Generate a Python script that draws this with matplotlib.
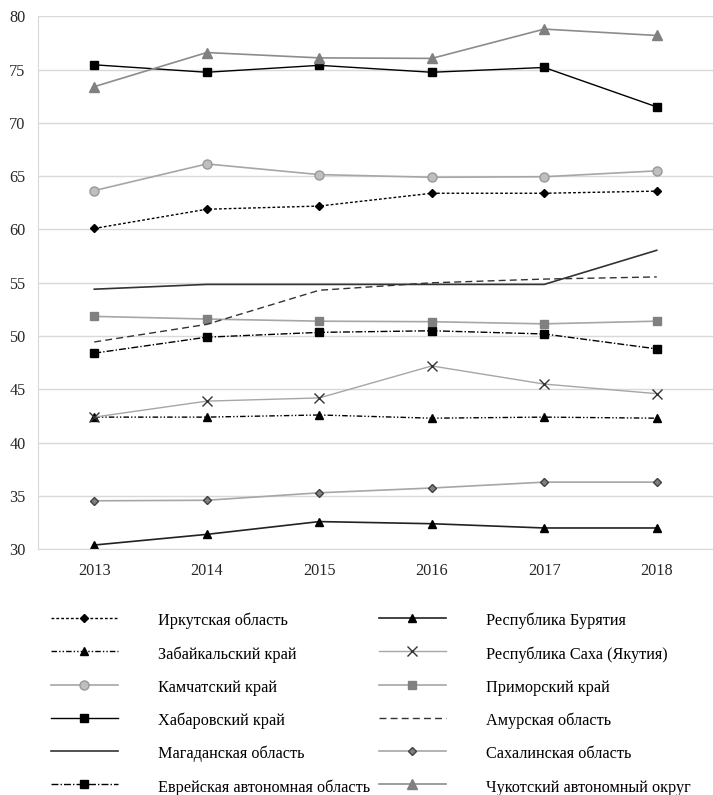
import matplotlib.pyplot as plt

plt.rcParams['font.family'] = ['Liberation Serif', 'DejaVu Serif']

years = ['2013', '2014', '2015', '2016', '2017', '2018']

irkutsk = [60.1, 61.9, 62.2, 63.4, 63.4, 63.6]
buryatia = [30.4, 31.4, 32.6, 32.4, 32.0, 32.0]
zabaikal = [42.4, 42.4, 42.6, 42.3, 42.4, 42.3]
sakha = [42.4, 43.9, 44.2, 47.2, 45.5, 44.6]
kamchatka = [63.65, 66.15, 65.15, 64.9, 64.95, 65.5]
primorye = [51.85, 51.6, 51.4, 51.35, 51.15, 51.4]
khabarovsk = [75.45, 74.75, 75.4, 74.75, 75.2, 71.5]
amur = [49.45, 51.1, 54.3, 55.0, 55.35, 55.55]
magadan = [54.4, 54.85, 54.85, 54.85, 54.85, 58.05]
sakhalin = [34.55, 34.6, 35.3, 35.75, 36.3, 36.3]
jewish = [48.4, 49.9, 50.35, 50.5, 50.2, 48.8]
chukotka = [73.4, 76.6, 76.1, 76.05, 78.8, 78.2]

fs = 11.7

fig = plt.figure(figsize=(7.13, 7.95), dpi=100)
ax = fig.add_axes([38 / 713, 1 - 549.3 / 795, 675 / 713, 533 / 795])
x = range(len(years))

# order of legend columns: left column first, then right
ax.plot(x, irkutsk, color='black', lw=1, ls=(0, (2, 1.5)), marker='D', ms=4.5,
        label='Иркутская область')
ax.plot(x, zabaikal, color='black', lw=1, ls=(0, (4, 1.5, 1, 1.5, 1, 1.5)), marker='^', ms=6,
        label='Забайкальский край')
ax.plot(x, kamchatka, color='#a6a6a6', lw=1.2, marker='o', ms=6.5, mfc='#bfbfbf', mec='#999999',
        label='Камчатский край')
ax.plot(x, khabarovsk, color='black', lw=1, marker='s', ms=6,
        label='Хабаровский край')
ax.plot(x, magadan, color='#333333', lw=1.2, label='Магаданская область')
ax.plot(x, jewish, color='black', lw=1, ls=(0, (5, 1.5, 1, 1.5)), marker='s', ms=5.5,
        label='Еврейская автономная область')

ax.plot(x, buryatia, color='#222222', lw=1.2, marker='^', ms=6, mfc='black', mec='black',
        label='Республика Бурятия')
ax.plot(x, sakha, color='#a6a6a6', lw=1, marker='x', ms=6.5, mec='#333333', mew=1,
        label='Республика Саха (Якутия)')
ax.plot(x, primorye, color='#a6a6a6', lw=1.2, marker='s', ms=6, mfc='#808080', mec='#808080',
        label='Приморский край')
ax.plot(x, amur, color='#333333', lw=1, ls=(0, (5, 3)), label='Амурская область')
ax.plot(x, sakhalin, color='#a6a6a6', lw=1.2, marker='D', ms=4.5, mfc='#808080', mec='#404040',
        label='Сахалинская область')
ax.plot(x, chukotka, color='#8c8c8c', lw=1.2, marker='^', ms=6.5, mfc='#808080', mec='#808080',
        label='Чукотский автономный округ')

ax.set_xlim(-0.5, 5.5)
ax.set_ylim(30, 80)
ax.set_yticks(range(30, 81, 5))
ax.set_xticks(list(x))
ax.set_xticklabels(years)
ax.tick_params(length=0, labelsize=fs, colors='#262626')
ax.tick_params(axis='x', pad=10)
ax.tick_params(axis='y', pad=9)
ax.grid(axis='y', color='#d9d9d9', lw=1)
ax.set_axisbelow(True)
for s in ['top', 'right']:
    ax.spines[s].set_visible(False)
ax.spines['left'].set_color('#d9d9d9')
ax.spines['bottom'].set_color('#d9d9d9')

fig.legend(loc='upper left', bbox_to_anchor=(51 / 713, 1 - 611 / 795), ncol=2,
           frameon=False, fontsize=fs, borderpad=0, borderaxespad=0,
           handlelength=4.12, handleheight=1.3, handletextpad=2.46,
           columnspacing=0.55, labelspacing=0.92)

plt.savefig('out.png', dpi=100)
